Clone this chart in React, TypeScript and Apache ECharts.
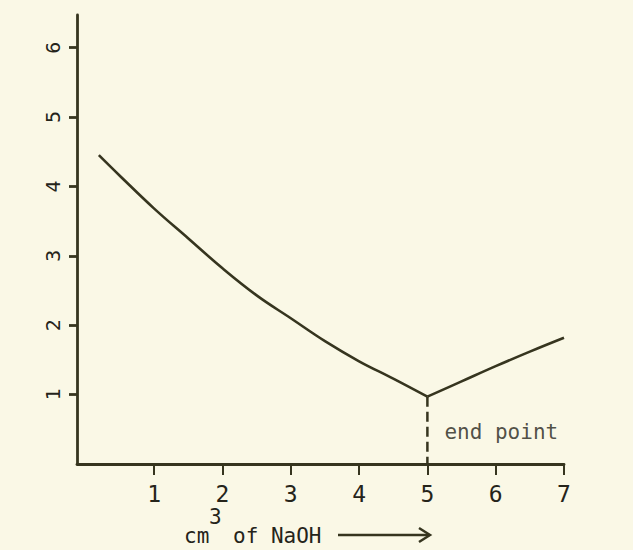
import React, { useEffect, useRef } from "react";
import * as echarts from "echarts";

const volumes = [0.19, 0.5, 1.0, 1.5, 2.0, 2.5, 3.0, 3.5, 4.0, 4.5, 5.0, 5.5, 6.0, 6.5, 7.0];
const readings = [4.45, 4.15, 3.68, 3.25, 2.82, 2.43, 2.1, 1.77, 1.48, 1.23, 0.97, 1.19, 1.41, 1.62, 1.82];
const xTicks = [1, 2, 3, 4, 5, 6, 7];
const yTicks = [1, 2, 3, 4, 5, 6];
const endPointX = 5;
const endPointY = 0.97;
const endLabelY = 0.46;

const INK = "#36351f";
const TEXT = "#25241a";
const PAPER = "#faf8e6";
const FONT = "DejaVu Sans Mono";

export default function App() {
  const ref = useRef<HTMLDivElement>(null);
  useEffect(() => {
    if (!ref.current) return;
    const chart = echarts.init(ref.current, undefined, { renderer: "svg" });
    const curve = volumes.map((v, i) => [v, readings[i]]);
    const split = volumes.indexOf(endPointX);
    const left = curve.slice(0, split + 1);
    const right = curve.slice(split);
    chart.setOption({
      animation: false,
      backgroundColor: PAPER,
      grid: { left: 77, right: 69, top: 15, bottom: 86, containLabel: false },
      xAxis: {
        type: "value",
        min: -0.13,
        max: 7,
        splitLine: { show: false },
        axisLine: { show: true, onZero: false, lineStyle: { color: INK, width: 2.8 } },
        axisTick: { show: true, customValues: xTicks, length: 11, lineStyle: { color: INK, width: 2 } },
        axisLabel: {
          customValues: xTicks,
          margin: 18,
          color: TEXT,
          fontSize: 23,
          fontFamily: FONT,
        },
      },
      yAxis: {
        type: "value",
        min: 0,
        max: 6.47,
        splitLine: { show: false },
        axisLine: { show: true, onZero: false, lineStyle: { color: INK, width: 2.8 } },
        axisTick: { show: true, customValues: yTicks, length: 8, lineStyle: { color: INK, width: 2.8 } },
        axisLabel: {
          customValues: yTicks,
          rotate: 90,
          margin: 14,
          color: TEXT,
          fontSize: 20,
          fontFamily: FONT,
        },
      },
      series: [
        {
          type: "line",
          data: left,
          symbol: "none",
          smooth: 0.4,
          lineStyle: { color: INK, width: 2.6 },
        },
        {
          type: "line",
          data: right,
          symbol: "none",
          smooth: 0.4,
          lineStyle: { color: INK, width: 2.6 },
        },
        {
          type: "line",
          data: [
            [endPointX, endPointY],
            [endPointX, 0],
          ],
          symbol: "none",
          lineStyle: { color: INK, width: 2.5, type: [10, 5] },
        },
        {
          type: "scatter",
          data: [[endPointX, endLabelY]],
          symbolSize: 0,
          label: {
            show: true,
            position: "right",
            distance: 17,
            formatter: "end point",
            color: TEXT,
            fontSize: 21,
            fontFamily: FONT,
          },
        },
      ],
      graphic: [
        {
          type: "text",
          left: 184,
          top: 525,
          style: { text: "cm", fill: TEXT, font: `21px "${FONT}"` },
        },
        {
          type: "text",
          left: 209,
          top: 506,
          style: { text: "3", fill: TEXT, font: `21px "${FONT}"` },
        },
        {
          type: "text",
          left: 233,
          top: 525,
          style: { text: "of NaOH", fill: TEXT, font: `21px "${FONT}"` },
        },
        {
          type: "line",
          shape: { x1: 338, y1: 535, x2: 429, y2: 535 },
          style: { stroke: INK, lineWidth: 2.5 },
        },
        {
          type: "polyline",
          shape: { points: [[419, 528], [430, 535], [419, 542]] },
          style: { stroke: INK, lineWidth: 2.5, fill: "none" },
        },
      ],
    });
    return () => chart.dispose();
  }, []);
  return (
    <div
      ref={ref}
      style={{ position: "fixed", left: 0, top: 0, width: 633, height: 550, background: PAPER }}
    />
  );
}
